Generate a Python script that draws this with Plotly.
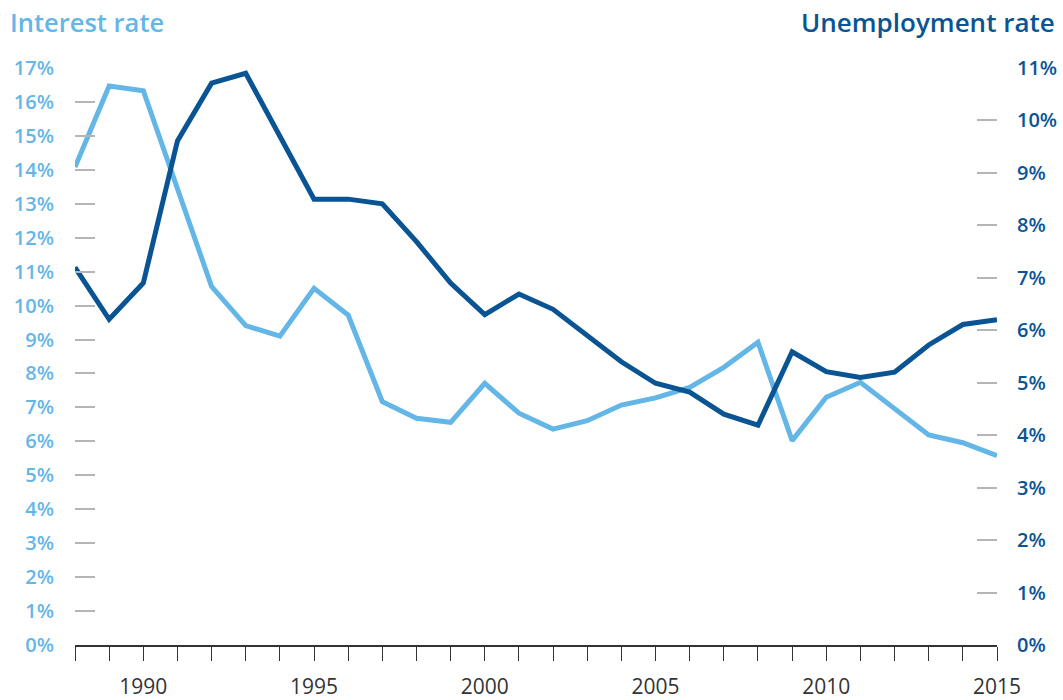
import plotly.graph_objects as go

years = list(range(1988, 2016))
interest_rate = [14.08, 16.47, 16.33, 13.45, 10.56, 9.41, 9.10, 10.51, 9.72, 7.17,
                 6.68, 6.56, 7.71, 6.83, 6.36, 6.61, 7.07, 7.28, 7.59, 8.18,
                 8.92, 6.02, 7.30, 7.74, 6.97, 6.19, 5.96, 5.58]
unemployment_rate = [7.20, 6.21, 6.90, 9.61, 10.71, 10.90, 9.70, 8.50, 8.50, 8.41,
                     7.69, 6.90, 6.30, 6.69, 6.40, 5.91, 5.40, 4.99, 4.82, 4.40,
                     4.19, 5.59, 5.21, 5.10, 5.20, 5.72, 6.11, 6.20]
left_ticks = list(range(0, 18))
right_ticks = list(range(0, 12))
x_labels = [str(y) if y % 5 == 0 else "" for y in years]

LIGHT = "#64b6e7"
DARK = "#0a5494"
FONT = "Open Sans"

fig = go.Figure()
fig.add_trace(go.Scatter(x=years, y=interest_rate, mode="lines", name="Interest rate",
                         line=dict(color=LIGHT, width=5), yaxis="y"))
fig.add_trace(go.Scatter(x=years, y=unemployment_rate, mode="lines", name="Unemployment rate",
                         line=dict(color=DARK, width=5), yaxis="y2"))

fig.update_layout(
    width=1063, height=700,
    margin=dict(l=75, r=66, t=68, b=55, autoexpand=False),
    plot_bgcolor="white", paper_bgcolor="white",
    showlegend=False,
    font=dict(family=FONT),
    xaxis=dict(range=[1988, 2015], tickvals=years, ticktext=x_labels,
               ticks="outside", ticklen=14, tickwidth=1.2, tickcolor="#333333",
               showline=True, linecolor="#333333", linewidth=1.5,
               showgrid=False, zeroline=False, automargin=False,
               tickfont=dict(family=FONT, size=21, color="#333333"),
               ticklabelstandoff=8),
    yaxis=dict(range=[0, 17], tickvals=left_ticks, ticktext=[f"{v}%" for v in left_ticks],
               ticks="inside", ticklen=20, tickwidth=1.5, tickcolor="#b5b5b5",
               showline=False, showgrid=False, zeroline=False, automargin=False,
               tickfont=dict(family=FONT, size=20, color=LIGHT, weight=600),
               ticklabelstandoff=20),
    yaxis2=dict(range=[0, 11], tickvals=right_ticks, ticktext=[f"{v}%" for v in right_ticks],
                overlaying="y", side="right",
                ticks="inside", ticklen=20, tickwidth=1.5, tickcolor="#b5b5b5",
                showline=False, showgrid=False, zeroline=False, automargin=False,
                tickfont=dict(family=FONT, size=20, color=DARK, weight=600),
                ticklabelstandoff=19),
    annotations=[
        dict(text="Interest rate", xref="paper", yref="paper", x=-0.0727, y=1.08,
             xanchor="left", yanchor="middle", showarrow=False,
             font=dict(family=FONT, size=25.5, color=LIGHT, weight=600)),
        dict(text="Unemployment rate", xref="paper", yref="paper", x=1.065, y=1.08,
             xanchor="right", yanchor="middle", showarrow=False,
             font=dict(family=FONT, size=26, color=DARK, weight=600)),
    ],
)

fig.write_html("out.html", config={"displayModeBar": False},
               post_script="document.body.style.margin='0';document.body.style.overflow='hidden';")
